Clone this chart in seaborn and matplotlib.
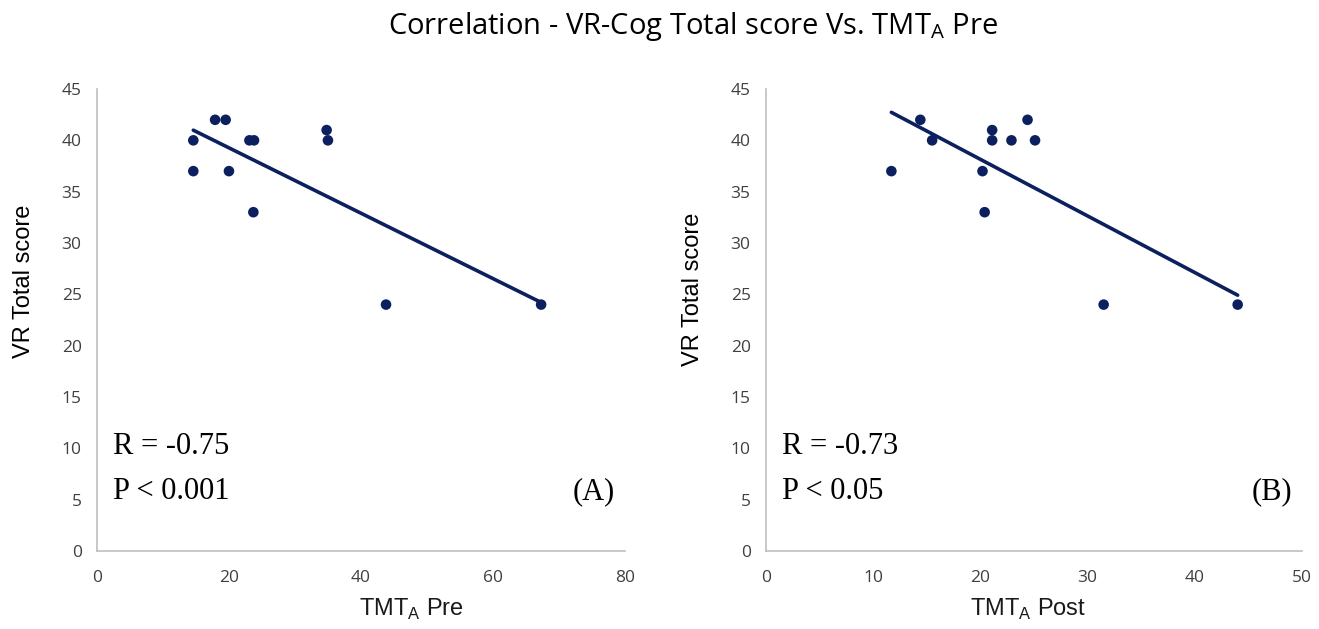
import matplotlib
matplotlib.use("Agg")
import matplotlib.pyplot as plt
import seaborn as sns
import pandas as pd

# Panel A data: TMT_A Pre vs VR Total score
tmt_pre = [14.6, 14.6, 17.9, 19.5, 20.0, 23.1, 23.8, 23.7, 34.8, 35.0, 43.8, 67.3]
vr_pre = [40, 37, 42, 42, 37, 40, 40, 33, 41, 40, 24, 24]

# Panel B data: TMT_A Post vs VR Total score
tmt_post = [11.7, 14.4, 15.5, 20.2, 20.4, 21.1, 21.1, 22.9, 24.4, 25.1, 31.5, 44.0]
vr_post = [37, 42, 40, 37, 33, 41, 40, 40, 42, 40, 24, 24]

x_ticks_a = [0, 20, 40, 60, 80]
x_ticks_b = [0, 10, 20, 30, 40, 50]
y_ticks = [0, 5, 10, 15, 20, 25, 30, 35, 40, 45]

stats_a = ["R = -0.75", "P < 0.001", "(A)"]
stats_b = ["R = -0.73", "P < 0.05", "(B)"]

sns.set_style("white")
plt.rcParams['font.family'] = ['Open Sans', 'DejaVu Sans']

NAVY = '#0c1f5e'
AXC = '#bfbfbf'
TXT = '#404040'
SERIF = ['Liberation Serif', 'DejaVu Serif']
ARIAL = ['Liberation Sans', 'DejaVu Sans']

fig = plt.figure(figsize=(13.19, 6.29), dpi=100)
ax1 = fig.add_axes([0.0735, 0.124, 0.4003, 0.7345])
ax2 = fig.add_axes([0.5807, 0.124, 0.4064, 0.7345])

df_a = pd.DataFrame({"x": tmt_pre, "y": vr_pre})
df_b = pd.DataFrame({"x": tmt_post, "y": vr_post})

panels = [
    (ax1, df_a, x_ticks_a, 'TMT$_\\mathregular{A}$ Pre', stats_a, (0.595, -0.100), (-0.117, 0.584)),
    (ax2, df_b, x_ticks_b, 'TMT$_\\mathregular{A}$ Post', stats_b, (0.49, -0.100), (-0.116, 0.567)),
]

for ax, df, xt, xlab, st, xlc, ylc in panels:
    sns.regplot(data=df, x="x", y="y", ax=ax, ci=None, truncate=True,
                scatter_kws=dict(s=58, color=NAVY, edgecolor='none', alpha=1, zorder=3),
                line_kws=dict(color=NAVY, lw=2.6, zorder=2))
    ax.set_xlim(xt[0], xt[-1])
    ax.set_ylim(0, 45)
    ax.set_xticks(xt)
    ax.set_yticks(y_ticks)
    ax.tick_params(axis='both', which='both', direction='out', length=5, width=1,
                   color=AXC, labelcolor=TXT, labelsize=12.5, pad=6)
    ax.tick_params(axis='x', pad=9)
    for s in ['top', 'right']:
        ax.spines[s].set_visible(False)
    for s in ['left', 'bottom']:
        ax.spines[s].set_color(AXC)
        ax.spines[s].set_linewidth(1.2)
    ax.set_xlabel(xlab, fontsize=17, color='#1a1a1a', family=ARIAL)
    ax.xaxis.set_label_coords(*xlc)
    ax.set_ylabel('VR Total score', fontsize=17, color='#000000', family=ARIAL)
    ax.yaxis.set_label_coords(*ylc)
    ax.grid(False)
    ax.text(0.03, 0.227, st[0], transform=ax.transAxes, fontsize=22,
            family=SERIF, color='#000000', va='center')
    ax.text(0.03, 0.128, st[1], transform=ax.transAxes, fontsize=22,
            family=SERIF, color='#000000', va='center')
    ax.text(0.981, 0.128, st[2], transform=ax.transAxes, fontsize=22, ha='right',
            family=SERIF, color='#000000', va='center')

fig.text(0.525, 0.958, 'Correlation - VR-Cog Total score Vs. TMT$_\\mathregular{A}$ Pre',
         ha='center', va='center', fontsize=21, color='#000000',
         family=['Open Sans', 'DejaVu Sans'])

fig.savefig('out.png', dpi=100)
